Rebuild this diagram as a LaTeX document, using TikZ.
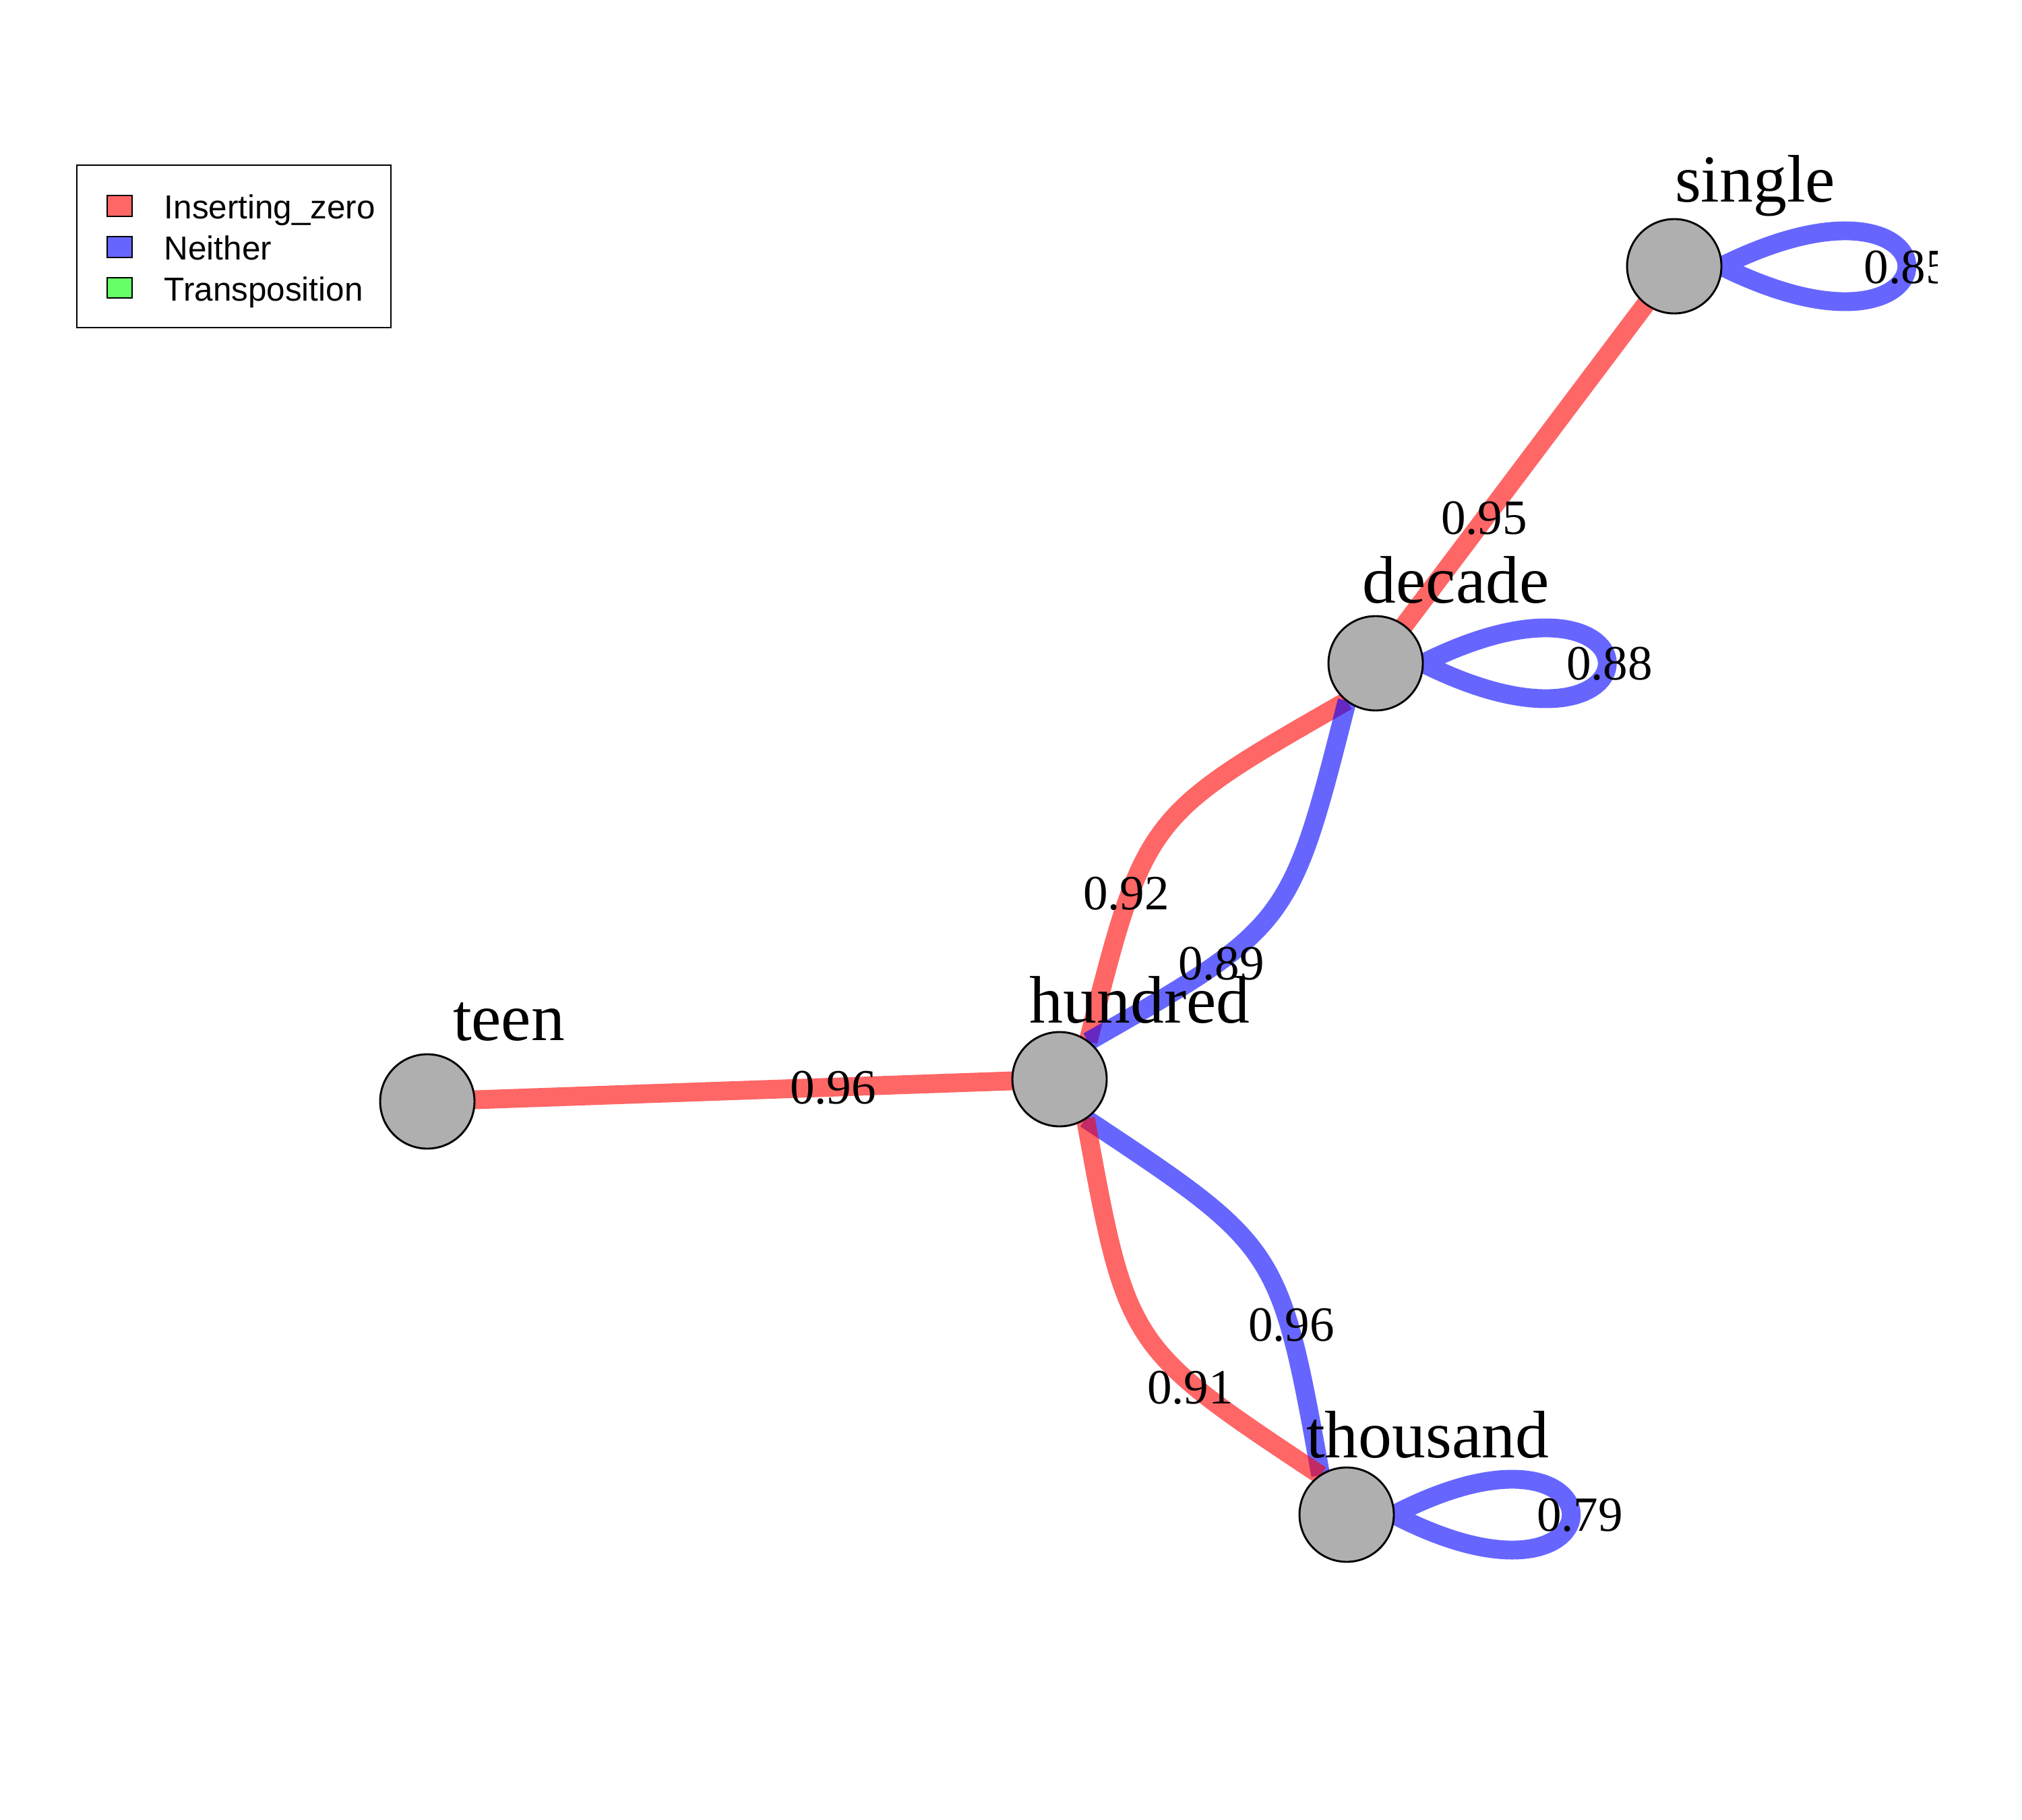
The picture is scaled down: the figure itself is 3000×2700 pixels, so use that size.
\documentclass[tikz,border=0pt]{standalone}
\usepackage{fontspec}
\setmainfont{Liberation Serif}
\newfontfamily\legendfont{Liberation Sans}
\usetikzlibrary{backgrounds,calc}
\definecolor{legred}{HTML}{FF6666}
\definecolor{legblue}{HTML}{6666FF}
\definecolor{leggreen}{HTML}{66FF66}
\definecolor{vgray}{HTML}{AFAFAF}
\begin{document}
\begin{tikzpicture}[x=0.24bp,y=-0.24bp,
  vertex/.style={circle,draw=black,fill=vgray,line width=0.7bp,minimum size=33.6bp,inner sep=0pt,outer sep=0pt},
  vlabel/.style={anchor=base,inner sep=0pt,font=\fontsize{24}{28}\selectfont},
  elabel/.style={anchor=base,inner sep=0pt,font=\fontsize{17.6}{20}\selectfont},
  redE/.style={draw=red,draw opacity=0.6,line width=6.7bp},
  blueE/.style={draw=blue,draw opacity=0.6,line width=6.7bp},
  legsq/.style={draw=black,line width=0.5bp,minimum width=8.9bp,minimum height=7.4bp,inner sep=0pt},
  legtxt/.style={anchor=base west,inner sep=0pt,font=\legendfont\fontsize{11.9}{14}\selectfont}]
\useasboundingbox (0,0) rectangle (3000,2700);
% vertices
\node[vertex] (single) at (2484,395) {};
\node[vertex] (decade) at (2041,984) {};
\node[vertex] (hundred) at (1572,1601) {};
\node[vertex] (teen) at (634,1634) {};
\node[vertex] (thousand) at (1998,2247) {};
% boundary points of the curved edges
\coordinate (hd) at ($(hundred.center)!16.8bp!(decade.center)$);
\coordinate (dh) at ($(decade.center)!16.8bp!(hundred.center)$);
\coordinate (ht) at ($(hundred.center)!16.8bp!(thousand.center)$);
\coordinate (th) at ($(thousand.center)!16.8bp!(hundred.center)$);
% edges
\begin{pgfonlayer}{background}
\draw[redE] (teen.center) -- (hundred.center);
\draw[redE] (decade.center) -- (single.center);
\draw[redE] (hd) .. controls (1699,1211) and (1699,1211) .. (dh);
\draw[blueE] (dh) .. controls (1914,1374) and (1914,1374) .. (hd);
\draw[blueE] (ht) .. controls (1898,1850) and (1898,1850) .. (th);
\draw[redE] (th) .. controls (1672,1998) and (1672,1998) .. (ht);
\draw[blueE] (single.east) .. controls +(367,-182) and +(367,182) .. (single.east);
\draw[blueE] (decade.east) .. controls +(365,-182) and +(365,182) .. (decade.east);
\draw[blueE] (thousand.east) .. controls +(351,-182) and +(351,182) .. (thousand.east);
\end{pgfonlayer}
% vertex labels
\node[vlabel] (lsingle) at ([shift={(120,-95)}]single.center) {single};
\node[vlabel] (ldecade) at ([shift={(119,-89)}]decade.center) {decade};
\node[vlabel] (lhundred) at ([shift={(119,-84)}]hundred.center) {hundred};
\node[vlabel] (lteen) at ([shift={(121,-91)}]teen.center) {teen};
\node[vlabel] (lthousand) at ([shift={(120,-85)}]thousand.center) {thousand};
% edge labels
\node[elabel] (e1) at (1236,1637) {0.96};
\node[elabel] (e2) at (2202,793) {0.95};
\node[elabel] (e3) at (2388,1008) {0.88};
\node[elabel] (e5) at (1671,1349) {0.92};
\node[elabel] (e6) at (1812,1453) {0.89};
\node[elabel] (e7) at (1916,1989) {0.96};
\node[elabel] (e8) at (1766,2082) {0.91};
\node[elabel] (e9) at (2344,2271) {0.79};
\begin{scope}
\clip (0,0) rectangle (2874,2700);
\node[elabel,anchor=base west] (e4) at (2765,421) {0.85};
\end{scope}
% legend
\node[draw=black,line width=0.5bp,minimum width=111.8bp,minimum height=57.8bp,inner sep=0pt] (legend) at (347,365.5) {};
\node[legsq,fill=legred] (sq1) at (177.5,305.5) {};
\node[legsq,fill=legblue] (sq2) at (177.5,366.5) {};
\node[legsq,fill=leggreen] (sq3) at (177.5,427) {};
\node[legtxt] (t1) at (243,325) {Inserting\_zero};
\node[legtxt] (t2) at (243,386) {Neither};
\node[legtxt] (t3) at (243,447) {Transposition};
\end{tikzpicture}
\end{document}
